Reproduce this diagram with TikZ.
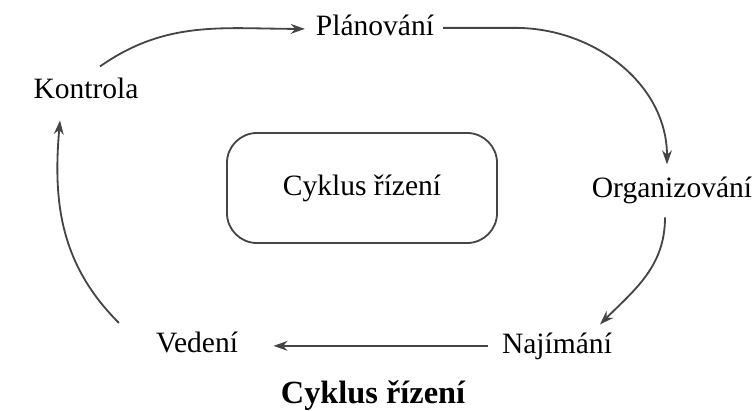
\documentclass[tikz,border=0pt]{standalone}
\usepackage{fontspec}
\setmainfont{Liberation Serif}
\usetikzlibrary{arrows.meta}

\definecolor{linegray}{gray}{0.27}

\begin{document}
\begin{tikzpicture}[x=0.025cm, y=0.025cm,
    phase/.style={anchor=base, inner sep=2pt, font=\fontsize{21}{25}\selectfont},
    flow/.style={draw=linegray, line width=1.3pt, -{Stealth[length=10pt,width=7pt]}}]
    \useasboundingbox (0,0) rectangle (756,410);

    % Phases of the cycle
    \node[phase] (plan) at (375,374) {Plánování};
    \node[phase] (kontr) at (86,312) {Kontrola};
    \node[phase] (org) at (672,213) {Organizování};
    \node[phase] (naj) at (557,57) {Najímání};
    \node[phase] (ved) at (197,58) {Vedení};

    % Centre box
    \node[draw=linegray, line width=1.3pt, rounded corners=0.75cm,
          minimum width=6.75cm, minimum height=2.75cm,
          font=\fontsize{21}{25}\selectfont] (cyc) at (362,222) {Cyklus řízení};

    % Caption
    \node[anchor=base, font=\fontsize{23}{27}\selectfont\bfseries] (title) at (373,7) {Cyklus řízení};

    % Arrows
    \draw[flow] ([shift={(14,8)}]kontr.north) to[out=35,in=180] ([shift={(-8,-3)}]plan.west);
    \draw[flow] ([shift={(6,-2)}]plan.east) -- ++(72,0) to[out=0,in=90] ([shift={(-5,9)}]org.north);
    \draw[flow] ([shift={(-7,-11)}]org.south) to[out=-90,in=45] ([shift={(43,5)}]naj.north);
    \draw[flow, shorten <=0.275cm, shorten >=0.81cm] (naj.west) -- (naj.west -| ved.east);
    \draw[flow] ([shift={(-34,19)}]ved.west) to[out=135,in=-95] ([shift={(-26,-19)}]kontr.south);
\end{tikzpicture}
\end{document}
